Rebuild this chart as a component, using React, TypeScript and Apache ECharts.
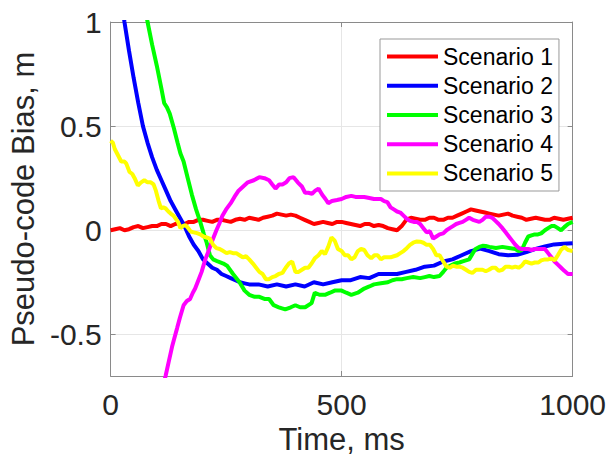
import React, { useEffect, useRef } from "react";
import * as echarts from "echarts";

const seriesNames = ["Scenario 1", "Scenario 2", "Scenario 3", "Scenario 4", "Scenario 5"];
const seriesColors = ["#ff0000", "#0000ff", "#00ff00", "#ff00ff", "#ffff00"];

const xTicks = [0, 500, 1000];
const yTicks = [-0.5, 0, 0.5, 1];

const scenario1: [number, number][] = [
  [0, 0.0], [10, 0.005], [20, 0.01], [30, 0.0], [40, 0.005], [50, 0.015], [60, 0.02], [70, 0.01], [80, 0.015],
  [90, 0.02], [100, 0.02], [110, 0.03], [120, 0.03], [130, 0.02], [140, 0.03], [150, 0.035], [160, 0.03],
  [170, 0.04], [180, 0.04], [190, 0.05], [200, 0.05], [210, 0.045], [220, 0.04], [230, 0.05], [240, 0.05],
  [250, 0.045], [260, 0.04], [270, 0.05], [280, 0.055], [290, 0.05], [300, 0.06], [310, 0.055], [320, 0.05],
  [330, 0.06], [340, 0.065], [350, 0.07], [360, 0.08], [370, 0.075], [380, 0.07], [390, 0.075], [400, 0.07],
  [410, 0.06], [420, 0.05], [430, 0.04], [440, 0.03], [450, 0.035], [460, 0.04], [470, 0.035], [480, 0.03],
  [490, 0.04], [500, 0.04], [510, 0.035], [520, 0.03], [530, 0.025], [540, 0.02], [550, 0.03], [560, 0.03],
  [570, 0.02], [580, 0.025], [590, 0.02], [600, 0.01], [610, 0.005], [620, 0.0], [630, 0.02], [640, 0.05],
  [650, 0.06], [660, 0.055], [670, 0.05], [680, 0.05], [690, 0.06], [700, 0.06], [710, 0.05], [720, 0.05],
  [730, 0.06], [740, 0.06], [750, 0.07], [760, 0.08], [770, 0.09], [780, 0.1], [790, 0.095], [800, 0.09],
  [810, 0.085], [820, 0.08], [830, 0.075], [840, 0.07], [850, 0.075], [860, 0.08], [870, 0.07], [880, 0.065],
  [890, 0.06], [900, 0.05], [910, 0.055], [920, 0.06], [930, 0.055], [940, 0.05], [950, 0.05], [960, 0.06],
  [970, 0.055], [980, 0.05], [990, 0.055], [1000, 0.06],
];

const scenario2: [number, number][] = [
  [0, 1.6], [10, 1.38], [20, 1.18], [30, 1.0], [40, 0.86], [50, 0.73], [60, 0.61], [70, 0.5], [80, 0.42],
  [90, 0.35], [100, 0.29], [110, 0.24], [120, 0.19], [130, 0.14], [140, 0.1], [150, 0.06], [160, 0.02],
  [170, -0.03], [180, -0.07], [190, -0.1], [200, -0.14], [210, -0.16], [220, -0.18], [230, -0.19],
  [240, -0.21], [250, -0.22], [260, -0.23], [270, -0.24], [280, -0.25], [290, -0.255], [300, -0.26],
  [320, -0.26], [340, -0.27], [360, -0.26], [380, -0.27], [400, -0.26], [420, -0.27], [440, -0.25],
  [460, -0.26], [480, -0.25], [500, -0.24], [520, -0.24], [540, -0.225], [560, -0.23], [580, -0.21],
  [600, -0.21], [620, -0.21], [640, -0.2], [660, -0.19], [680, -0.175], [700, -0.17], [720, -0.15],
  [740, -0.14], [760, -0.12], [780, -0.1], [800, -0.088], [820, -0.1], [840, -0.115], [860, -0.12],
  [880, -0.118], [900, -0.105], [920, -0.09], [940, -0.078], [960, -0.068], [980, -0.065], [1000, -0.062],
];

const scenario3: [number, number][] = [
  [0, 2.1], [20, 1.78], [40, 1.5], [60, 1.24], [70, 1.12], [80, 1.0], [90, 0.89], [100, 0.79], [110, 0.68],
  [116, 0.61], [122, 0.59], [128, 0.56], [137, 0.49], [145, 0.42], [151, 0.37], [158, 0.33], [167, 0.25],
  [176, 0.17], [185, 0.1], [194, 0.04], [202, -0.02], [208, -0.06], [215, -0.12], [222, -0.14], [232, -0.15],
  [244, -0.16], [252, -0.17], [265, -0.21], [279, -0.25], [290, -0.29], [300, -0.31], [312, -0.32],
  [322, -0.32], [333, -0.33], [343, -0.33], [353, -0.36], [364, -0.37], [378, -0.38], [390, -0.37],
  [400, -0.36], [410, -0.37], [421, -0.37], [435, -0.35], [442, -0.3], [452, -0.31], [464, -0.31],
  [475, -0.3], [485, -0.29], [500, -0.29], [510, -0.3], [521, -0.31], [535, -0.3], [549, -0.28],
  [560, -0.27], [570, -0.26], [585, -0.255], [600, -0.25], [610, -0.24], [620, -0.235], [630, -0.235],
  [641, -0.23], [655, -0.225], [670, -0.23], [680, -0.225], [690, -0.22], [700, -0.225], [712, -0.22],
  [720, -0.2], [727, -0.18], [736, -0.17], [745, -0.16], [755, -0.155], [762, -0.15], [776, -0.14],
  [784, -0.11], [790, -0.09], [798, -0.08], [805, -0.075], [812, -0.076], [820, -0.08], [834, -0.085],
  [848, -0.08], [862, -0.085], [876, -0.09], [883, -0.1], [890, -0.095], [897, -0.06], [904, -0.03],
  [911, -0.025], [918, -0.02], [925, -0.02], [932, -0.015], [940, 0.0], [947, 0.01], [954, 0.02],
  [961, 0.02], [968, 0.01], [975, 0.0], [982, 0.015], [990, 0.03], [1000, 0.04],
];

const scenario4: [number, number][] = [
  [0, -1.6], [50, -1.25], [100, -0.85], [119, -0.7], [126, -0.63], [133, -0.56], [139, -0.51], [144, -0.47],
  [150, -0.42], [158, -0.36], [165, -0.34], [172, -0.33], [178, -0.3], [183, -0.28], [190, -0.24],
  [197, -0.2], [205, -0.14], [212, -0.1], [220, -0.05], [229, 0.0], [235, 0.03], [242, 0.07], [250, 0.1],
  [260, 0.13], [268, 0.16], [277, 0.19], [287, 0.21], [297, 0.23], [310, 0.24], [322, 0.255], [333, 0.25],
  [343, 0.24], [350, 0.22], [357, 0.2], [365, 0.22], [372, 0.22], [380, 0.23], [387, 0.25], [396, 0.255],
  [405, 0.23], [414, 0.21], [421, 0.18], [428, 0.18], [436, 0.175], [443, 0.19], [450, 0.2], [458, 0.17],
  [465, 0.15], [471, 0.13], [479, 0.14], [490, 0.145], [500, 0.15], [510, 0.16], [521, 0.165], [530, 0.16],
  [542, 0.16], [549, 0.16], [560, 0.155], [570, 0.15], [585, 0.15], [592, 0.14], [599, 0.135], [606, 0.11],
  [613, 0.1], [620, 0.09], [627, 0.085], [634, 0.07], [641, 0.055], [648, 0.045], [656, 0.04], [663, 0.04],
  [670, 0.03], [677, 0.01], [684, -0.01], [691, -0.005], [698, -0.04], [705, -0.03], [712, -0.02],
  [720, -0.015], [727, 0.0], [734, 0.01], [741, 0.02], [748, 0.03], [755, 0.035], [762, 0.04], [769, 0.05],
  [776, 0.06], [784, 0.05], [791, 0.045], [798, 0.04], [805, 0.05], [812, 0.065], [819, 0.065], [826, 0.06],
  [833, 0.045], [840, 0.03], [848, 0.01], [855, -0.01], [862, -0.03], [869, -0.05], [876, -0.07],
  [883, -0.085], [890, -0.09], [897, -0.09], [904, -0.09], [911, -0.095], [918, -0.09], [925, -0.09],
  [932, -0.09], [940, -0.09], [947, -0.11], [954, -0.13], [961, -0.15], [968, -0.165], [975, -0.18],
  [982, -0.195], [990, -0.21], [1000, -0.21],
];

const scenario5: [number, number][] = [
  [0, 0.43], [5, 0.42], [9, 0.39], [16, 0.36], [23, 0.33], [30, 0.33], [34, 0.32], [41, 0.28], [47, 0.27],
  [52, 0.25], [59, 0.215], [66, 0.23], [73, 0.24], [80, 0.23], [87, 0.23], [93, 0.22], [98, 0.19],
  [104, 0.14], [109, 0.105], [114, 0.11], [119, 0.105], [125, 0.09], [130, 0.08], [136, 0.07], [141, 0.055],
  [146, 0.04], [151, 0.01], [156, 0.02], [162, 0.025], [168, 0.01], [173, -0.006], [180, -0.01],
  [187, -0.014], [194, -0.02], [201, -0.03], [208, -0.035], [215, -0.04], [222, -0.07], [229, -0.086],
  [236, -0.09], [244, -0.1], [251, -0.11], [258, -0.105], [265, -0.11], [272, -0.11], [279, -0.12],
  [286, -0.13], [293, -0.125], [300, -0.14], [308, -0.16], [315, -0.18], [322, -0.2], [329, -0.21],
  [336, -0.235], [343, -0.235], [350, -0.225], [357, -0.22], [364, -0.21], [372, -0.205], [379, -0.18],
  [386, -0.16], [393, -0.15], [400, -0.2], [407, -0.2], [414, -0.19], [421, -0.18], [428, -0.18],
  [435, -0.16], [442, -0.135], [450, -0.12], [457, -0.1], [464, -0.115], [471, -0.08], [478, -0.035],
  [485, -0.05], [492, -0.09], [500, -0.1], [507, -0.12], [514, -0.12], [521, -0.14], [528, -0.13],
  [535, -0.1], [542, -0.09], [549, -0.095], [556, -0.12], [564, -0.135], [571, -0.12], [578, -0.12],
  [585, -0.14], [592, -0.13], [599, -0.13], [606, -0.13], [613, -0.125], [620, -0.12], [627, -0.11],
  [634, -0.1], [641, -0.086], [648, -0.07], [655, -0.06], [663, -0.054], [670, -0.055], [677, -0.06],
  [684, -0.07], [691, -0.07], [698, -0.09], [705, -0.12], [712, -0.12], [720, -0.15], [727, -0.175],
  [734, -0.18], [741, -0.17], [748, -0.175], [755, -0.175], [762, -0.18], [769, -0.19], [776, -0.2],
  [783, -0.205], [791, -0.19], [798, -0.19], [805, -0.19], [812, -0.197], [819, -0.19], [826, -0.18],
  [833, -0.18], [840, -0.195], [848, -0.19], [855, -0.175], [862, -0.175], [869, -0.18], [876, -0.175],
  [883, -0.18], [890, -0.17], [897, -0.15], [904, -0.155], [911, -0.16], [918, -0.155], [926, -0.155],
  [932, -0.145], [940, -0.14], [947, -0.14], [954, -0.135], [961, -0.145], [968, -0.12], [975, -0.094],
  [982, -0.08], [990, -0.095], [1000, -0.1],
];

const allSeries = [scenario1, scenario2, scenario3, scenario4, scenario5];

const FONT = "Liberation Sans, Arial, Helvetica, sans-serif";
const AXIS_COLOR = "#8a8a8a";
const TEXT_COLOR = "#262626";
const GRID_COLOR = "#e6e6e6";

export default function App() {
  const ref = useRef<HTMLDivElement>(null);

  useEffect(() => {
    if (!ref.current) return;
    const chart = echarts.init(ref.current, undefined, { renderer: "svg" });

    const baseX = {
      type: "value" as const,
      min: 0,
      max: 1000,
      interval: 500,
      axisLine: { show: true, onZero: false, lineStyle: { color: AXIS_COLOR, width: 1 } },
      axisTick: { show: true, inside: true, length: 5, lineStyle: { color: AXIS_COLOR } },
    };
    const baseY = {
      type: "value" as const,
      min: -0.7,
      max: 1,
      axisLine: { show: true, onZero: false, lineStyle: { color: AXIS_COLOR, width: 1 } },
      axisTick: { show: true, inside: true, length: 5, customValues: yTicks, lineStyle: { color: AXIS_COLOR } },
    };

    chart.setOption({
      animation: false,
      backgroundColor: "#ffffff",
      grid: { left: 106, right: 34, top: 22, bottom: 84, containLabel: false },
      legend: {
        data: seriesNames,
        orient: "vertical",
        left: 380,
        top: 39,
        icon: "rect",
        itemWidth: 51,
        itemHeight: 4,
        itemGap: 0,
        padding: [3, 6, 3, 7],
        backgroundColor: "#ffffff",
        borderColor: "#999999",
        borderWidth: 1,
        borderRadius: 0,
        textStyle: { fontSize: 23, lineHeight: 29.2, color: "#000000", fontFamily: FONT },
      },
      xAxis: [
        {
          ...baseX,
          position: "bottom",
          name: "Time, ms",
          nameLocation: "middle",
          nameGap: 32,
          nameTextStyle: { fontSize: 31, color: TEXT_COLOR, fontFamily: FONT },
          axisLabel: {
            show: true,
            margin: 13,
            fontSize: 30,
            color: TEXT_COLOR,
            fontFamily: FONT,
            customValues: xTicks,
            formatter: (v: number) => String(v),
          },
          splitLine: { show: true, lineStyle: { color: GRID_COLOR, width: 1 } },
        },
        {
          ...baseX,
          position: "top",
          axisLabel: { show: false },
          splitLine: { show: false },
        },
      ],
      yAxis: [
        {
          ...baseY,
          position: "left",
          name: "Pseudo-code Bias, m",
          nameLocation: "middle",
          nameRotate: 90,
          nameGap: 68,
          nameTextStyle: { fontSize: 31, color: TEXT_COLOR, fontFamily: FONT },
          axisLabel: {
            show: true,
            margin: 9,
            fontSize: 30,
            color: TEXT_COLOR,
            fontFamily: FONT,
            customValues: yTicks,
            formatter: (v: number) => String(v),
          },
          splitLine: { show: true, lineStyle: { color: GRID_COLOR, width: 1 } },
        },
        {
          ...baseY,
          position: "right",
          axisLabel: { show: false },
          splitLine: { show: false },
        },
      ],
      series: allSeries.map((d, i) => ({
        name: seriesNames[i],
        type: "line",
        data: d,
        xAxisIndex: 0,
        yAxisIndex: 0,
        showSymbol: false,
        symbol: "none",
        clip: true,
        color: seriesColors[i],
        itemStyle: { color: seriesColors[i] },
        lineStyle: { color: seriesColors[i], width: 4 },
        z: 2 + i,
      })),
    });

    return () => chart.dispose();
  }, []);

  return (
    <div
      ref={ref}
      style={{ position: "fixed", left: 0, top: 0, width: 609, height: 460, background: "#fff" }}
    />
  );
}
